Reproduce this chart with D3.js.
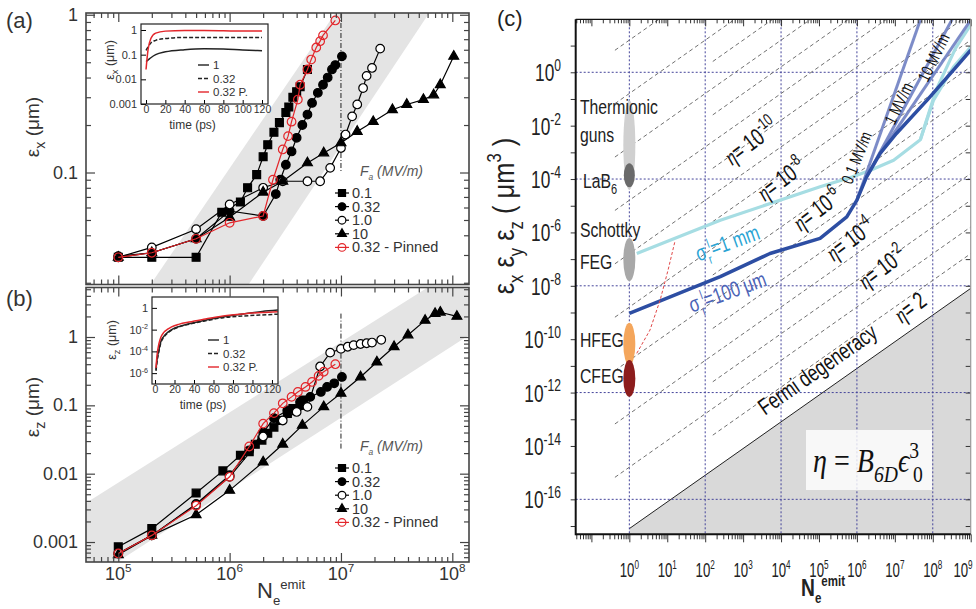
<!DOCTYPE html>
<html>
<head>
<meta charset="utf-8">
<script src="https://d3js.org/d3.v7.min.js"></script>
<style>
  body { margin: 0; background: #fff; }
  text { font-family: "Liberation Sans", Arial, sans-serif; }
</style>
</head>
<body>
<svg id="fig" width="976" height="609"></svg>
<script>
// ---------------- panel (a): eps_x vs N ----------------
const aSqN  = [1e5, 2e5, 5e5, 8.5e5, 1.25e6, 1.45e6, 1.75e6, 2e6, 2.2e6, 2.5e6, 2.8e6, 3.2e6, 3.4e6, 3.7e6, 4e6, 4.3e6, 5e6];
const aSqE  = [0.029, 0.029, 0.029, 0.056, 0.065, 0.080, 0.097, 0.126, 0.15, 0.18, 0.207, 0.24, 0.26, 0.30, 0.325, 0.35, 0.45];
const aFcN  = [1e5, 2e5, 5e5, 1e6, 2e6, 2.6e6, 2.85e6, 3.2e6, 3.6e6, 4e6, 4.5e6, 5e6, 5.5e6, 6.2e6, 6.9e6, 7.6e6, 8.3e6, 8.9e6, 1.02e7];
const aFcE  = [0.0295, 0.031, 0.038, 0.057, 0.053, 0.073, 0.09, 0.112, 0.136, 0.166, 0.20, 0.233, 0.276, 0.32, 0.36, 0.40, 0.45, 0.48, 0.545];
const aOcN  = [1e5, 2e5, 5e5, 1e6, 2e6, 3e6, 5e6, 6.5e6, 8e6, 1e7, 1.1e7, 1.26e7, 1.4e7, 1.58e7, 1.7e7, 1.9e7, 2.25e7];
const aOcE  = [0.029, 0.0335, 0.0437, 0.0627, 0.08, 0.088, 0.088, 0.088, 0.107, 0.143, 0.174, 0.227, 0.27, 0.343, 0.41, 0.46, 0.61];
const aTrN  = [1e5, 2e5, 5e5, 1e6, 2e6, 3e6, 5e6, 7e6, 1e7, 1.4e7, 1.95e7, 2.9e7, 3.9e7, 5.5e7, 6.8e7, 7.8e7, 1.03e8];
const aTrE  = [0.029, 0.031, 0.038, 0.052, 0.075, 0.088, 0.115, 0.133, 0.154, 0.182, 0.21, 0.25, 0.27, 0.29, 0.31, 0.36, 0.545];
const aPnN  = [1e5, 2e5, 5e5, 1e6, 2e6, 2.45e6, 3e6, 3.35e6, 3.6e6, 4.1e6, 4.3e6, 5e6, 5.4e6, 6e6, 6.5e6, 6.9e6, 8.9e6];
const aPnE  = [0.029, 0.031, 0.038, 0.048, 0.053, 0.09, 0.14, 0.17, 0.21, 0.29, 0.36, 0.45, 0.52, 0.62, 0.68, 0.74, 0.92];
const aBandN = [1.95e5, 1.48e6, 6.2e7, 8.9e6];

// ---------------- panel (b): eps_z vs N ----------------
const bSqN  = [1e5, 2e5, 5e5, 8.7e5, 1.25e6, 1.5e6, 1.7e6, 1.95e6, 2.2e6, 2.5e6, 2.85e6, 3.3e6, 3.7e6, 4.3e6, 4.6e6];
const bSqE  = [0.00085, 0.00157, 0.0052, 0.011, 0.0186, 0.021, 0.027, 0.031, 0.039, 0.048, 0.06, 0.076, 0.09, 0.10, 0.12];
const bFcN  = [1e5, 2e5, 5e5, 1e6, 1.5e6, 2e6, 2.5e6, 3.3e6, 4.3e6, 5.3e6, 6.6e6, 7.5e6, 8.7e6, 1.02e7];
const bFcE  = [0.00068, 0.00125, 0.0036, 0.0095, 0.022, 0.04, 0.065, 0.084, 0.112, 0.133, 0.157, 0.186, 0.21, 0.26];
const bOcN  = [1e5, 2e5, 5e5, 1e6, 2e6, 3e6, 4e6, 5e6, 6.5e6, 8e6, 1e7, 1.15e7, 1.3e7, 1.5e7, 1.7e7, 1.9e7, 2.3e7];
const bOcE  = [0.00068, 0.00125, 0.0035, 0.009, 0.035, 0.06, 0.08, 0.095, 0.37, 0.59, 0.67, 0.72, 0.76, 0.79, 0.81, 0.83, 0.91];
const bTrN  = [1e5, 2e5, 5e5, 1e6, 2e6, 3e6, 4.5e6, 7e6, 1e7, 1.5e7, 2.1e7, 3e7, 4e7, 5.7e7, 7e7, 7.8e7, 1.1e8];
const bTrE  = [0.00065, 0.00125, 0.0025, 0.0057, 0.0148, 0.027, 0.051, 0.095, 0.15, 0.26, 0.43, 0.72, 1.07, 1.75, 2.2, 2.3, 2.0];
const bPnN  = [1e5, 2e5, 5e5, 1e6, 1.5e6, 2e6, 2.5e6, 3e6, 3.6e6, 4.1e6, 4.8e6, 5.5e6, 6.3e6, 7e6, 8.9e6];
const bPnE  = [0.00068, 0.00125, 0.0034, 0.009, 0.025, 0.054, 0.077, 0.107, 0.133, 0.157, 0.186, 0.22, 0.27, 0.31, 0.40];
const bBandN = [5.1e4, 6.0e7, 1.41e8, 1.41e8, 9.8e4, 5.1e4];
const bBandE = [0.0037, 5.3, 5.3, 1.06, 0.00051, 0.00051];

const fieldLabels = ["0.1", "0.32", "1.0", "10", "0.32 - Pinned"];

// ---------------- insets ----------------
const tA    = [0, 2, 5, 10, 20, 40, 60, 80, 100, 120];
const tA_1  = [0.052, 0.06, 0.075, 0.1, 0.13, 0.16, 0.175, 0.17, 0.155, 0.145];
const tA_32 = [0.15, 0.2, 0.3, 0.38, 0.45, 0.5, 0.5, 0.5, 0.5, 0.5];
const tA_P  = [0.025, 0.15, 0.45, 0.75, 0.9, 0.95, 0.95, 0.93, 0.9, 0.92];
const tB    = [1, 2, 4, 6, 9, 13, 17, 25, 35, 50, 70, 90, 110, 126];
const tB_1  = [2e-6, 1.6e-5, 1.4e-4, 8e-4, 2.4e-3, 5.6e-3, 1e-2, 2e-2, 3.5e-2, 6.8e-2, 0.15, 0.27, 0.47, 0.63];
const tB_32 = [1.6e-6, 1e-5, 1e-4, 6.3e-4, 2e-3, 5e-3, 8.9e-3, 1.8e-2, 3.2e-2, 6e-2, 0.126, 0.178, 0.224, 0.263];
const tB_P  = [3e-6, 4e-5, 5e-4, 2e-3, 5.6e-3, 1.1e-2, 1.8e-2, 3.2e-2, 5e-2, 8.9e-2, 0.18, 0.28, 0.38, 0.45];
const insetLabels = ["1", "0.32", "0.32 P."];

// ---------------- panel (c) ----------------
const srcNames = ["Thermionic", "LaB6", "Schottky", "HFEG", "CFEG"];
const srcLo    = [3.9e-5, 4.9e-5, 1.5e-8, 1.07e-11, 6.9e-13];
const srcHi    = [8.9e-2, 3.9e-4, 6.2e-7, 4.1e-10, 1.66e-11];
const srcColor = ["#d0d0d0", "#6a6a6a", "#a8a8a8", "#f4a65c", "#8c1c1c"];
const cyanN  = [1.57, 250, 1.07e5, 7.4e5, 2.2e6, 9.3e6, 4.7e7, 1.05e8, 3.5e8, 1e9];
const cyanE  = [1.62e-7, 2.88e-6, 5.1e-5, 1.2e-4, 2.1e-4, 5.1e-4, 2.95e-3, 0.091, 1.58, 8.9];
const cyan2N = [4.7e7, 1.2e8, 4e8, 1e9];
const cyan2E = [2.95e-3, 0.2, 8, 60];
const blueN  = [1, 250, 5.1e3, 1.07e5, 5.4e5, 1e6, 1.8e6, 4.1e6, 1.1e7, 7.1e7, 3.5e8, 1e9];
const blueE  = [9.3e-10, 2.2e-8, 1.62e-7, 6e-7, 3.8e-6, 1.62e-5, 1.2e-4, 9.1e-4, 5.1e-3, 0.091, 1.2, 6.8];
const f01N = [1e6, 4.7e7],   f01E = [1.62e-5, 91];
const f1N  = [1.8e6, 3.5e8], f1E  = [1.2e-4, 117];
const f10N = [4.1e6, 1e9],   f10E = [9.1e-4, 91];
const redN = [1.57, 3.5, 6.5, 10.5, 15.8];
const redE = [2.95e-11, 2.2e-10, 2.95e-9, 3.9e-8, 4.4e-7];
// eta = const lines: eps = N * offset ; even exponents start at the left edge, odd ones further right
const etaExp   = [2, 3, 4, 5, 6, 7, 8, 9, 10, 11, 12, 13, 14, 15, 16, 17, 18, 19, 1];
const etaOff   = [1.6e-15, 1.6e-14, 1.6e-13, 1.6e-12, 1.6e-11, 1.6e-10, 1.6e-9, 1.6e-8, 1.6e-7, 1.6e-6, 1.6e-5, 1.6e-4, 1.6e-3, 1.6e-2, 0.16, 1.6, 16, 160, 1.6e-16];
const etaLabelExp = ["-10", "-8", "-6", "-4", "-2"];
const fermiOff = 8e-18;

// ------------------------------------------------------------
const svg = d3.select("#fig");
svg.append("rect").attr("width", 976).attr("height", 609).attr("fill", "#fff");

function rich(t, parts, size) {
  let cur = 0;
  parts.forEach(p => {
    if (typeof p === "string") p = { t: p };
    const off = p.k === "sup" ? -0.42 * size : p.k === "sub" ? 0.3 * size : 0;
    const ts = t.append("tspan").text(p.t).attr("dy", off - cur);
    if (p.k) ts.attr("font-size", size * (p.s || 0.65));
    if (p.i) ts.style("font-style", "italic");
    if (p.f) ts.style("font-family", p.f);
    if (p.dx) ts.attr("dx", p.dx);
    cur = off;
  });
  return t;
}
function label(g, x, y, parts, o = {}) {
  const t = g.append("text")
    .attr("transform", `translate(${x},${y}) rotate(${o.rot || 0}) scale(${o.sx || 1},1)`)
    .attr("font-size", o.size || 16)
    .attr("text-anchor", o.anchor || "start")
    .attr("fill", o.fill || "#000");
  if (o.italic) t.style("font-style", "italic");
  if (o.family) t.style("font-family", o.family);
  return rich(t, parts, o.size || 16);
}
function minors(lo, hi) {
  const out = [];
  for (let k = Math.floor(Math.log10(lo)); k <= Math.ceil(Math.log10(hi)); k++)
    for (let m = 2; m <= 9; m++) { const v = m * 10 ** k; if (v > lo && v < hi) out.push(v); }
  return out;
}
function decades(lo, hi, step = 1) {
  const out = [];
  for (let k = Math.ceil(Math.log10(lo)); k <= Math.floor(Math.log10(hi)); k += step) out.push(10 ** k);
  return out;
}

// ---------------- panels (a), (b) ----------------
const xL = 86, xR = 469;
const x = d3.scaleLog().domain([10 ** 4.71, 10 ** 8.15]).range([xL, xR]);

function seriesList(sq, fc, oc, tr, pn) {
  return [
    { N: sq[0], E: sq[1], sym: d3.symbolSquare, size: 62, fill: "#000", stroke: "#000", line: "#000" },
    { N: fc[0], E: fc[1], sym: d3.symbolCircle, size: 58, fill: "#000", stroke: "#000", line: "#000" },
    { N: oc[0], E: oc[1], sym: d3.symbolCircle, size: 58, fill: "#fff", stroke: "#000", line: "#000" },
    { N: tr[0], E: tr[1], sym: d3.symbolTriangle, size: 42, fill: "#000", stroke: "#000", line: "#000" },
    { N: pn[0], E: pn[1], sym: d3.symbolCircle, size: 58, fill: "none", stroke: "#e3262b", line: "#e3262b" }
  ];
}

function panel(cfg) {
  const g = svg.append("g");
  const y = d3.scaleLog().domain(cfg.yDom).range([cfg.yB, cfg.yT]);
  const clipId = "clip" + cfg.name;
  svg.append("clipPath").attr("id", clipId).append("rect")
    .attr("x", xL).attr("y", cfg.yT).attr("width", xR - xL).attr("height", cfg.yB - cfg.yT);
  const pg = g.append("g").attr("clip-path", `url(#${clipId})`);

  // grey band
  pg.append("path")
    .attr("d", d3.line().x(d => x(d[0])).y(d => y(d[1]))(cfg.band) + "Z")
    .attr("fill", "#e4e4e4");

  // dash-dot line at N = 1e7
  pg.append("line").attr("x1", x(1e7)).attr("x2", x(1e7))
    .attr("y1", y(cfg.vTop)).attr("y2", y(cfg.vBot))
    .attr("stroke", "#222").attr("stroke-width", 1).attr("stroke-dasharray", "5,2,1,2");

  const line = d3.line().x(d => x(d[0])).y(d => y(d[1]));
  cfg.series.forEach(s => {
    const pts = s.N.map((n, i) => [n, s.E[i]]);
    pg.append("path").attr("d", line(pts)).attr("fill", "none")
      .attr("stroke", s.line).attr("stroke-width", 1.2);
    pg.selectAll(null).data(pts).enter().append("path")
      .attr("transform", d => `translate(${x(d[0])},${y(d[1])})`)
      .attr("d", d3.symbol().type(s.sym).size(s.size))
      .attr("fill", s.fill).attr("stroke", s.stroke).attr("stroke-width", 1.2);
  });

  // axes, ticks pointing inward on all four sides
  const yMaj = decades(cfg.yDom[0], cfg.yDom[1]);
  const yMin = minors(cfg.yDom[0], cfg.yDom[1]);
  const xMaj = decades(x.domain()[0], x.domain()[1]);
  const xMin = minors(x.domain()[0], x.domain()[1]);
  const ax = (gen, vals, len, tr) => {
    const a = g.append("g").attr("transform", tr)
      .call(gen.tickValues(vals).tickSize(-len).tickFormat(""));
    a.select(".domain").remove();
    a.selectAll("line").attr("stroke", "#444").attr("stroke-width", 1.2);
    return a;
  };
  ax(d3.axisLeft(y), yMaj, 9, `translate(${xL},0)`);
  ax(d3.axisLeft(y), yMin, 5, `translate(${xL},0)`);
  ax(d3.axisRight(y), yMaj, 9, `translate(${xR},0)`);
  ax(d3.axisRight(y), yMin, 5, `translate(${xR},0)`);
  ax(d3.axisBottom(x), xMaj, 9, `translate(0,${cfg.yB})`);
  ax(d3.axisBottom(x), xMin, 5, `translate(0,${cfg.yB})`);
  ax(d3.axisTop(x), xMaj, 9, `translate(0,${cfg.yT})`);
  ax(d3.axisTop(x), xMin, 5, `translate(0,${cfg.yT})`);

  g.append("rect").attr("x", xL).attr("y", cfg.yT).attr("width", xR - xL)
    .attr("height", cfg.yB - cfg.yT).attr("fill", "none").attr("stroke", "#444").attr("stroke-width", 1.6);

  cfg.yTicks.forEach((v, i) => {
    g.append("text").attr("x", xL - 8).attr("y", y(v) + 6).attr("text-anchor", "end")
      .attr("font-size", 18).attr("fill", "#333").text(cfg.yTickText[i]);
  });

  // legend
  const lg = g.append("g");
  label(lg, 360, cfg.legY - 17, [{ t: "F" }, { t: "a", k: "sub", s: 0.6 }, " (MV/m)"], { size: 14, italic: true, fill: "#555" });
  cfg.series.forEach((s, i) => {
    const cy = cfg.legY + i * 13.6;
    lg.append("line").attr("x1", 335).attr("x2", 349).attr("y1", cy).attr("y2", cy)
      .attr("stroke", s.line).attr("stroke-width", 1.2);
    lg.append("path").attr("transform", `translate(342,${cy})`)
      .attr("d", d3.symbol().type(s.sym).size(s.size * 0.8))
      .attr("fill", s.fill).attr("stroke", s.stroke).attr("stroke-width", 1.2);
    lg.append("text").attr("x", 352).attr("y", cy + 5).attr("font-size", 14.5).attr("fill", "#333")
      .text(fieldLabels[i]);
  });
  return { g, y };
}

panel({
  name: "a", yDom: [0.0195, 1.026], yT: 13, yB: 284.5,
  band: aBandN.map((n, i) => [n, i < 2 ? 0.0195 : 1.026]),
  vTop: 1.026, vBot: 0.1,
  series: seriesList([aSqN, aSqE], [aFcN, aFcE], [aOcN, aOcE], [aTrN, aTrE], [aPnN, aPnE]),
  yTicks: [1, 0.1], yTickText: ["1", "0.1"], legY: 193
});
panel({
  name: "b", yDom: [0.00051, 5.3], yT: 287.5, yB: 562,
  band: bBandN.map((n, i) => [n, bBandE[i]]),
  vTop: 2.2, vBot: 0.022,
  series: seriesList([bSqN, bSqE], [bFcN, bFcE], [bOcN, bOcE], [bTrN, bTrE], [bPnN, bPnE]),
  yTicks: [1, 0.1, 0.01, 0.001], yTickText: ["1", "0.1", "0.01", "0.001"], legY: 468
});

// x tick labels under (b)
[1e5, 1e6, 1e7, 1e8].forEach(v => {
  label(svg, x(v), 580, ["10", { t: String(Math.round(Math.log10(v))), k: "sup" }], { size: 18, anchor: "middle", fill: "#333" });
});
label(svg, 257, 598, ["N", { t: "e", k: "sub", s: 0.6 }, { t: "emit", k: "sup", s: 0.6 }], { size: 22, fill: "#333" });
label(svg, 39, 127, ["ε", { t: "x", k: "sub", s: 0.75 }, " (μm)"], { size: 19, rot: -90, anchor: "middle", fill: "#333" });
label(svg, 39, 407, ["ε", { t: "z", k: "sub", s: 0.75 }, " (μm)"], { size: 19, rot: -90, anchor: "middle", fill: "#333" });
svg.append("text").attr("x", 6).attr("y", 28).attr("font-size", 22).attr("fill", "#333").text("(a)");
svg.append("text").attr("x", 6).attr("y", 306).attr("font-size", 22).attr("fill", "#333").text("(b)");

// ---------------- insets ----------------
function inset(cfg) {
  const g = svg.append("g");
  const xi = d3.scaleLinear().domain(cfg.xDom).range([cfg.x0, cfg.x1]);
  const yi = d3.scaleLog().domain(cfg.yDom).range([cfg.y1, cfg.y0]);
  g.append("rect").attr("x", cfg.x0).attr("y", cfg.y0).attr("width", cfg.x1 - cfg.x0)
    .attr("height", cfg.y1 - cfg.y0).attr("fill", "#fff");
  const cid = "iclip" + cfg.name;
  svg.append("clipPath").attr("id", cid).append("rect").attr("x", cfg.x0).attr("y", cfg.y0)
    .attr("width", cfg.x1 - cfg.x0).attr("height", cfg.y1 - cfg.y0);
  const pg = g.append("g").attr("clip-path", `url(#${cid})`);
  const line = d3.line().curve(d3.curveMonotoneX).x(d => xi(d[0])).y(d => yi(d[1]));
  const styles = [
    { c: "#222", dash: null }, { c: "#222", dash: "4,2" }, { c: "#e3262b", dash: null }
  ];
  cfg.curves.forEach((vals, i) => {
    pg.append("path").attr("d", line(cfg.t.map((t, j) => [t, vals[j]])))
      .attr("fill", "none").attr("stroke", styles[i].c).attr("stroke-width", 1.5)
      .attr("stroke-dasharray", styles[i].dash);
  });
  const xa = g.append("g").attr("transform", `translate(0,${cfg.y1})`)
    .call(d3.axisBottom(xi).tickValues([0, 20, 40, 60, 80, 100, 120]).tickSize(-4).tickPadding(2));
  xa.select(".domain").remove();
  xa.selectAll("text").attr("font-size", 10.5).attr("fill", "#333");
  const ya = g.append("g").attr("transform", `translate(${cfg.x0},0)`)
    .call(d3.axisLeft(yi).tickValues(cfg.yTicks).tickSize(-5).tickFormat(""));
  ya.select(".domain").remove();
  cfg.yTicks.forEach((v, i) => label(g, cfg.x0 - 4, yi(v) + 4, cfg.yTickParts[i], { size: 11, anchor: "end", fill: "#333" }));
  g.append("rect").attr("x", cfg.x0).attr("y", cfg.y0).attr("width", cfg.x1 - cfg.x0)
    .attr("height", cfg.y1 - cfg.y0).attr("fill", "none").attr("stroke", "#222").attr("stroke-width", 1.2);
  g.append("text").attr("x", (cfg.x0 + cfg.x1) / 2 - 12).attr("y", cfg.y1 + 25).attr("text-anchor", "middle")
    .attr("font-size", 12).attr("fill", "#333").text("time (ps)");
  label(g, cfg.titleX, cfg.titleY, ["ε", { t: cfg.sub, k: "sub", s: 0.75 }, " (μm)"], { size: 12.5, rot: -90, anchor: "middle", fill: "#333" });
  insetLabels.forEach((s, i) => {
    const cy = cfg.legY + i * 13.5;
    g.append("line").attr("x1", cfg.legX).attr("x2", cfg.legX + 11).attr("y1", cy).attr("y2", cy)
      .attr("stroke", styles[i].c).attr("stroke-width", 1.4).attr("stroke-dasharray", styles[i].dash);
    g.append("text").attr("x", cfg.legX + 15).attr("y", cy + 4).attr("font-size", 11.5).attr("fill", "#333").text(s);
  });
}
inset({
  name: "a", x0: 141, x1: 268, y0: 24, y1: 104, xDom: [-5.2, 126.2], yDom: [0.001, 1.75],
  t: tA, curves: [tA_1, tA_32, tA_P], sub: "x", titleX: 114, titleY: 60, legX: 198, legY: 65,
  yTicks: [1, 0.1, 0.01, 0.001], yTickParts: [["1"], ["0.1"], ["0.01"], ["0.001"]]
});
inset({
  name: "b", x0: 152, x1: 278, y0: 297, y1: 384, xDom: [-3.1, 126.2], yDom: [1e-7, 10],
  t: tB, curves: [tB_1, tB_32, tB_P], sub: "z", titleX: 116, titleY: 340, legX: 208, legY: 340,
  yTicks: [1, 1e-2, 1e-4, 1e-6],
  yTickParts: [["1"], ["10", { t: "-2", k: "sup" }], ["10", { t: "-4", k: "sup" }], ["10", { t: "-6", k: "sup" }]]
});

// ---------------- panel (c) ----------------
const cL = 575.7, cR = 970.7, cT = 19.3, cB = 534.3;
const xc = d3.scaleLog().domain([10 ** -1.414, 1e9]).range([cL, cR]);
const yc = d3.scaleLog().domain([10 ** -17.31, 10 ** 1.985]).range([cB, cT]);
const gc = svg.append("g");
svg.append("clipPath").attr("id", "cclip").append("rect")
  .attr("x", cL).attr("y", cT).attr("width", cR - cL).attr("height", cB - cT);
const pc = gc.append("g").attr("clip-path", "url(#cclip)");
const lc = d3.line().x(d => xc(d[0])).y(d => yc(d[1]));

// Fermi degeneracy region (eta = 2)
const fermiPts = [[1, yc.domain()[0]], [1, fermiOff], [1e9, 1e9 * fermiOff], [1e9, yc.domain()[0]]];
pc.append("path").attr("d", lc(fermiPts) + "Z").attr("fill", "#d9d9d9");
pc.append("path").attr("d", lc(fermiPts.slice(1, 3))).attr("stroke", "#222").attr("stroke-width", 1).attr("fill", "none");

// dotted grid every 2 decades in N and 4 decades in eps
[1, 1e2, 1e4, 1e6, 1e8].forEach(v => pc.append("line").attr("x1", xc(v)).attr("x2", xc(v))
  .attr("y1", cT).attr("y2", cB).attr("stroke", "#44449a").attr("stroke-width", 1).attr("stroke-dasharray", "2,2"));
[1, 1e-4, 1e-8, 1e-12, 1e-16].forEach(v => pc.append("line").attr("y1", yc(v)).attr("y2", yc(v))
  .attr("x1", cL).attr("x2", cR).attr("stroke", "#44449a").attr("stroke-width", 1).attr("stroke-dasharray", "2,2"));

// eta = const lines
etaExp.forEach((k, i) => {
  const n0 = k % 2 === 0 ? 10 ** -0.38 : 10 ** 2.2;
  pc.append("path").attr("d", lc([[n0, n0 * etaOff[i]], [1e10, 1e10 * etaOff[i]]]))
    .attr("stroke", "#707070").attr("stroke-width", 1).attr("stroke-dasharray", "4,3").attr("fill", "none");
});

// beam curves
const curve = (N, E, c, w, op) => pc.append("path").attr("d", lc(N.map((n, i) => [n, E[i]])))
  .attr("fill", "none").attr("stroke", c).attr("stroke-width", w).attr("stroke-opacity", op || 1)
  .attr("stroke-linejoin", "round");
curve(cyanN, cyanE, "#a6dde3", 3.2);
curve(cyan2N, cyan2E, "#a6dde3", 3.2);
curve(f01N, f01E, "#6f80c2", 3, 0.9);
curve(f1N, f1E, "#6f80c2", 3, 0.9);
curve(f10N, f10E, "#6f80c2", 3, 0.9);
curve(blueN, blueE, "#2d4ea3", 3.5);
curve(redN, redE, "#e04848", 1).attr("stroke-dasharray", "3,2");

// electron sources at N = 1
srcNames.forEach((s, i) => {
  const y0 = yc(srcHi[i]), y1 = yc(srcLo[i]);
  pc.append("ellipse").attr("cx", xc(1)).attr("cy", (y0 + y1) / 2)
    .attr("rx", i === 1 ? 5.5 : 6).attr("ry", (y1 - y0) / 2).attr("fill", srcColor[i]);
});

// axes (c)
const axc = (gen, vals, len, tr) => {
  const a = gc.append("g").attr("transform", tr).call(gen.tickValues(vals).tickSize(len).tickFormat(""));
  a.select(".domain").remove();
  a.selectAll("line").attr("stroke", "#333").attr("stroke-width", 1);
};
const cxMaj = decades(xc.domain()[0], 1e9), cxMin = minors(xc.domain()[0], 1e9);
const cyMaj = decades(yc.domain()[0], yc.domain()[1]);
axc(d3.axisBottom(xc), cxMaj, 8, `translate(0,${cB})`);
axc(d3.axisBottom(xc), cxMin, 5, `translate(0,${cB})`);
axc(d3.axisTop(xc), cxMaj, -7, `translate(0,${cT})`);
axc(d3.axisTop(xc), cxMin, -4, `translate(0,${cT})`);
axc(d3.axisLeft(yc), cyMaj, 5, `translate(${cL},0)`);
axc(d3.axisRight(yc), cyMaj, -5, `translate(${cR},0)`);
gc.append("line").attr("x1", cL).attr("x2", cR).attr("y1", cT).attr("y2", cT).attr("stroke", "#111").attr("stroke-width", 1.2);
gc.append("line").attr("x1", cR).attr("x2", cR).attr("y1", cT).attr("y2", cB).attr("stroke", "#999").attr("stroke-width", 1.2);
gc.append("line").attr("x1", cL).attr("x2", cL).attr("y1", cT).attr("y2", cB + 1).attr("stroke", "#111").attr("stroke-width", 2);
gc.append("line").attr("x1", cL).attr("x2", cR).attr("y1", cB).attr("y2", cB).attr("stroke", "#111").attr("stroke-width", 2);

// tick labels (c)
decades(1e-16, 1, 2).forEach(v => {
  const e = Math.round(Math.log10(v));
  label(gc, 561, yc(v) + 9, ["10", { t: String(e), k: "sup", s: 0.7 }], { size: 24, sx: 0.72, anchor: "end", fill: "#222" });
});
decades(1, 1e9).forEach(v => {
  const e = Math.round(Math.log10(v));
  label(gc, Math.min(xc(v), 963), 577, ["10", { t: String(e), k: "sup", s: 0.62 }], { size: 20, sx: 0.66, anchor: "middle", fill: "#222" });
});
label(gc, 823, 596, ["N", { t: "e", k: "sub", s: 0.6 }, { t: "emit", k: "sup", s: 0.6 }], { size: 24, sx: 0.8, anchor: "middle", fill: "#222" }).style("font-weight", "bold");
label(gc, 514, 216, ["ε", { t: "x", k: "sub" }, " ε", { t: "y", k: "sub" }, " ε", { t: "z", k: "sub" }, "     (  μm", { t: "3", k: "sup" }, "  )"],
  { size: 30, sx: 0.85, rot: -90, anchor: "middle", fill: "#222" });
gc.append("text").attr("x", 497).attr("y", 26).attr("font-size", 22).attr("fill", "#222").text("(c)");

// source labels
const sl = (px, py, parts) => label(gc, px, py, parts, { size: 21, sx: 0.75, fill: "#222" });
sl(580, 114, ["Thermionic"]); sl(580, 142, ["guns"]);
sl(583, 188, ["LaB", { t: "6", k: "sub", s: 0.7 }]);
sl(580, 237, ["Schottky"]); sl(580, 269, ["FEG"]);
sl(580, 347, ["HFEG"]); sl(580, 383, ["CFEG"]);

// eta labels
const etaPos = [[756, 148], [786, 186], [822, 216], [855, 246], [887, 274]];
etaLabelExp.forEach((ex, i) => label(gc, etaPos[i][0], etaPos[i][1],
  [{ t: "η", f: "Liberation Serif", i: true }, "= 10", { t: ex, k: "sup", s: 0.7 }],
  { size: 24, sx: 0.72, rot: -37, anchor: "middle", fill: "#111" }));
label(gc, 915, 314, [{ t: "η", f: "Liberation Serif", i: true }, "= 2"], { size: 24, sx: 0.72, rot: -37, anchor: "middle", fill: "#111" });
label(gc, 822, 376, ["Fermi degeneracy"], { size: 23, sx: 0.75, rot: -35, anchor: "middle", fill: "#111" });
label(gc, 862, 160, ["0.1 MV/m"], { size: 17, sx: 0.75, rot: -68, anchor: "middle", fill: "#111" });
label(gc, 904, 106, ["1 MV/m"], { size: 17, sx: 0.75, rot: -64, anchor: "middle", fill: "#111" });
label(gc, 939, 60, ["10 MV/m"], { size: 17, sx: 0.75, rot: -64, anchor: "middle", fill: "#111" });
label(gc, 730, 250, ["σ", { t: "r", k: "sub", s: 0.6 }, { t: "l", k: "sup", s: 0.6 }, "=1 mm"], { size: 22, sx: 0.75, rot: -20, anchor: "middle", fill: "#2aa4d4" });
label(gc, 730, 299, ["σ", { t: "r", k: "sub", s: 0.6 }, { t: "l", k: "sup", s: 0.6 }, "=100 μm"], { size: 22, sx: 0.75, rot: -20, anchor: "middle", fill: "#4b63b6" });

// formula box
gc.append("rect").attr("x", 806).attr("y", 430).attr("width", 126).attr("height", 60).attr("fill", "#fff").attr("opacity", 0.8);
label(gc, 868, 472, [{ t: "η", i: true }, " = ", { t: "B", i: true }, { t: "6D", k: "sub", s: 0.7, i: true }, { t: "ϵ", i: true },
  { t: "3", k: "sup", s: 0.7 }, { t: "0", k: "sub", s: 0.7, dx: -7 }],
  { size: 33, sx: 0.85, anchor: "middle", family: "Liberation Serif", fill: "#111" });
</script>
</body>
</html>
